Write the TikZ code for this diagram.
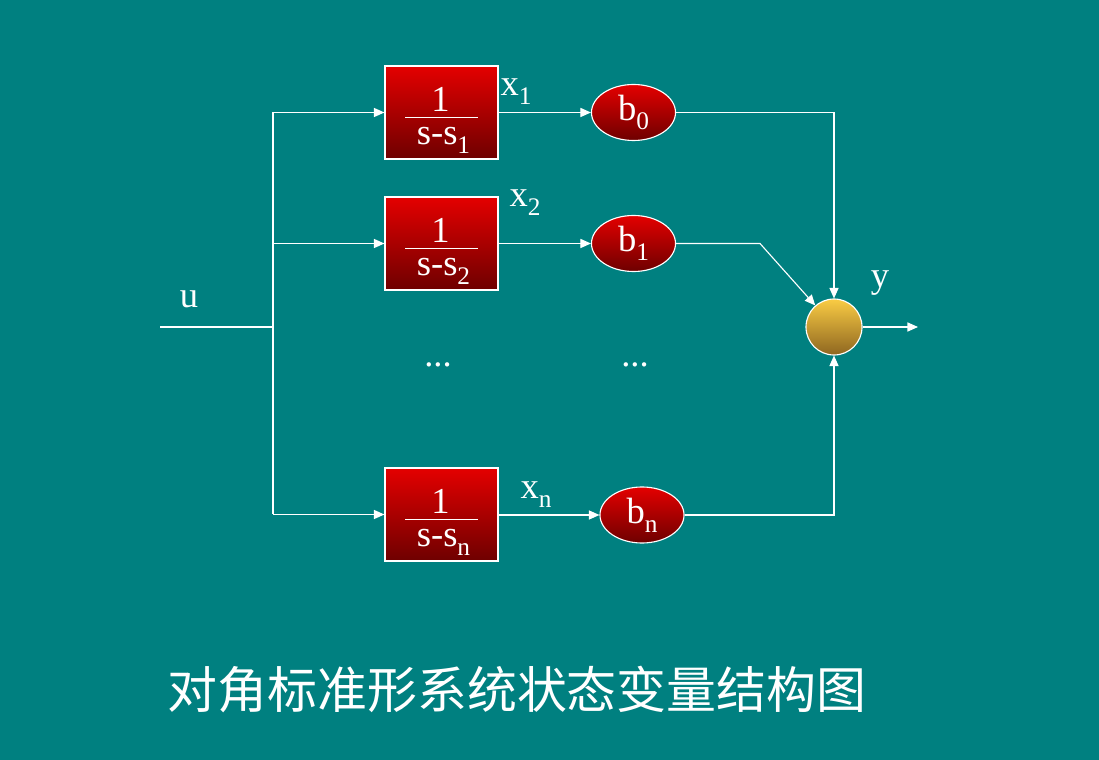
\documentclass[tikz,border=0pt]{standalone}
\usepackage{fontspec}
\setmainfont{Liberation Serif}
\newfontfamily\cjk{Noto Sans CJK SC}
\usetikzlibrary{arrows.meta,shapes.geometric}
\definecolor{bg}{HTML}{008080}
\definecolor{redtop}{HTML}{E40000}
\definecolor{redbot}{HTML}{6E0000}
\definecolor{goldtop}{HTML}{FACC44}
\definecolor{goldbot}{HTML}{8E6620}
\newcommand{\mysub}[1]{\raisebox{-0.25em}{\fontsize{18}{18}\selectfont #1}}
\tikzset{
  wire/.style={draw=white, line width=0.8pt},
  arr/.style={wire, -{Triangle[length=7.5pt,width=6.5pt]}},
  tfblock/.style={rectangle, draw=white, line width=0.8pt, minimum width=2.825cm, minimum height=2.325cm, inner sep=0pt, top color=redtop, bottom color=redbot},
  gainnode/.style={ellipse, draw=white, line width=0.8pt, minimum width=2.1cm, minimum height=1.4cm, inner sep=0pt, top color=redtop, bottom color=redbot, text=white, font=\fontsize{26}{30}\selectfont},
  sumnode/.style={circle, draw=white, line width=0.8pt, minimum size=1.4cm, inner sep=0pt, top color=goldtop, bottom color=goldbot},
  lbl/.style={text=white, font=\fontsize{26}{30}\selectfont, inner sep=0pt},
}
\newcommand{\tfcontent}[2]{%
  \node[lbl, anchor=base] (#1num) at ([shift={(-1,-1)}]#1.center) {1};
  \draw[white, line width=0.6pt] ([shift={(-36.5,5)}]#1.center) -- ([shift={(36.5,5)}]#1.center);
  \node[lbl, anchor=base] (#1den) at ([shift={(2,32)}]#1.center) {s-s\mysub{#2}};
}
\begin{document}
\begin{tikzpicture}[x=0.025cm, y=-0.025cm]
\fill[bg] (0,0) rectangle (1099,760);
\useasboundingbox (0,0) rectangle (1099,760);

% blocks
\node[tfblock] (B1) at (441.5,112.5) {};
\node[tfblock] (B2) at (441.5,243.5) {};
\node[tfblock] (Bn) at (441.5,514.5) {};
\tfcontent{B1}{1}
\tfcontent{B2}{2}
\tfcontent{Bn}{n}

% gains
\node[gainnode] (G0) at (633.5,112.5) {b\mysub{0}};
\node[gainnode] (G1) at (633.5,243.5) {b\mysub{1}};
\node[gainnode] (Gn) at (642,515) {b\mysub{n}};

% sum
\node[sumnode] (S) at (834,327) {};

% input
\coordinate (U0) at (160,327);
\coordinate (J) at (273,327);
\coordinate (Jt) at (273,112.5);
\coordinate (J2) at (273,243.5);
\coordinate (Jb) at (273,514.5);
\coordinate (K1) at (760,243.5);
\coordinate (Out) at (918,327);

\draw[wire] (U0) -- (J);
\draw[wire] (Jt) -- (Jb);
\draw[arr] (Jt) -- (B1.west);
\draw[arr] (J2) -- (B2.west);
\draw[arr] (Jb) -- (Bn.west);

\draw[arr] (B1.east) -- (G0.west);
\draw[arr] (B2.east) -- (G1.west);
\draw[arr] (Bn.east |- Gn.west) -- (Gn.west);

\draw[arr] (G0.east) -- (G0.east -| S.north) -- (S.north);
\draw[arr] (G1.east) -- (K1) -- (S.131);
\draw[arr] (Gn.east) -- (Gn.east -| S.south) -- (S.south);
\draw[arr] (S.east) -- (Out);

% labels
\node[lbl] (lu) at (189,299) {u};
\node[lbl] (ly) at (880,283) {y};
\node[lbl] (lx1) at (516,92) {x\mysub{1}};
\node[lbl] (lx2) at (525,203) {x\mysub{2}};
\node[lbl] (lxn) at (536,495) {x\mysub{n}};
\node[lbl] (d1) at (438,365) {...};
\node[lbl] (d2) at (635,365) {...};

% title
\node[text=white, inner sep=0pt, font=\cjk\fontsize{35.5}{40}\selectfont] (title) at (517,690) {对角标准形系统状态变量结构图};
\end{tikzpicture}
\end{document}
